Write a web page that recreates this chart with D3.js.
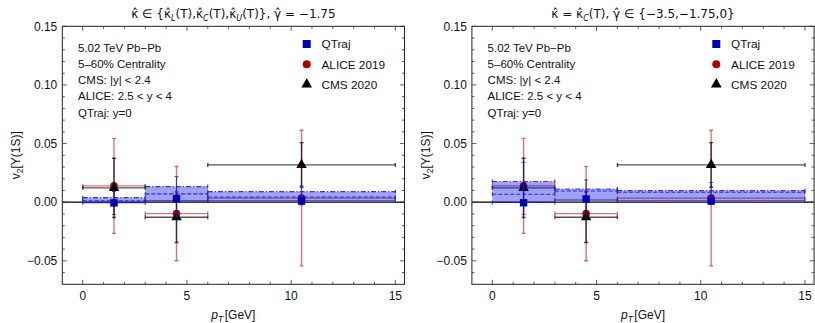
<!DOCTYPE html>
<html lang="en">
<head>
<meta charset="UTF-8">
<title>QTraj v2 comparison</title>
<script src="https://d3js.org/d3.v7.min.js"></script>
<style>
  body { margin: 0; background: #fff; }
  text { font-family: "Liberation Sans", Arial, sans-serif; fill: #111; }
</style>
</head>
<body>
<div id="chart"></div>
<script>
// pT bins shared by all data sets
const binLo = [0, 3, 6];
const binHi = [3, 6, 15];
const binMid = [1.5, 4.5, 10.5];

// ALICE 2019 (2.5 < y < 4)
const aliceV2 = [0.0139, -0.0097, 0.0035];
const aliceErr = [0.0405, 0.0402, 0.0578];

// CMS 2020 (|y| < 2.4)
const cmsV2 = [0.0122, -0.0128, 0.0318];
const cmsErr = [0.0253, 0.0216, 0.019];

// QTraj, left panel: kappa L / C / U, gamma = -1.75
const qtLeftSolid = [-0.0004, 0.0011, 0.0013];
const qtLeftDashed = [0.0012, 0.0071, 0.0045];
const qtLeftDotDash = [0.0039, 0.0133, 0.009];
const qtLeftPt = [-0.0006, 0.0031, 0.001];
const qtLeftErrLo = [-0.0104, -0.0128, -0.0023];
const qtLeftErrHi = [0.0092, 0.0218, 0.0139];

// QTraj, right panel: kappa C, gamma = -3.5 / -1.75 / 0
const qtRightSolid = [-0.0003, 0.0018, 0.0013];
const qtRightDashed = [0.0068, 0.0095, 0.0085];
const qtRightDotDash = [0.0176, 0.0113, 0.0099];
const qtRightPt = [-0.0005, 0.0028, 0.001];
const qtRightErrLo = [-0.0104, -0.0128, -0.002];
const qtRightErrHi = [0.034, 0.019, 0.0167];

const xTicks = [0, 5, 10, 15];
const yTicks = [-0.05, 0, 0.05, 0.10, 0.15];
const infoLines = ["5.02 TeV Pb\u2212Pb", "5\u201360% Centrality", "CMS: |y| < 2.4", "ALICE: 2.5 < y < 4", "QTraj: y=0"];
const legendLabels = ["QTraj", "ALICE 2019", "CMS 2020"];

const width = 815, height = 323;
const frameW = 342.2, frameTop = 26.3, frameBottom = 284.3;

const blue = "#1a1ab8", red = "#b00000";

const svg = d3.select("#chart").append("svg")
  .attr("width", width).attr("height", height);

const panels = [
  {
    left: 62.3,
    title: [["\u03BA\u0302 \u2208 {\u03BA\u0302", null], ["L", "sub"], ["(T),\u03BA\u0302", null], ["C", "sub"], ["(T),\u03BA\u0302", null], ["U", "sub"], ["(T)}, \u03B3\u0302 = \u22121.75", null]],
    solid: qtLeftSolid, dashed: qtLeftDashed, dotdash: qtLeftDotDash,
    pt: qtLeftPt, errLo: qtLeftErrLo, errHi: qtLeftErrHi
  },
  {
    left: 471.9,
    title: [["\u03BA\u0302 = \u03BA\u0302", null], ["C", "sub"], ["(T), \u03B3\u0302 \u2208 {\u22123.5,\u22121.75,0}", null]],
    solid: qtRightSolid, dashed: qtRightDashed, dotdash: qtRightDotDash,
    pt: qtRightPt, errLo: qtRightErrLo, errHi: qtRightErrHi
  }
];

panels.forEach((p, pi) => {
  const x = d3.scaleLinear().domain([-0.98, 15.44]).range([p.left, p.left + frameW]);
  const y = d3.scaleLinear().domain([-0.07, 0.15]).range([frameBottom, frameTop]);
  const g = svg.append("g");

  const clipId = "clip" + pi;
  svg.append("clipPath").attr("id", clipId).append("rect")
    .attr("x", p.left).attr("y", frameTop).attr("width", frameW).attr("height", frameBottom - frameTop);
  const plot = g.append("g").attr("clip-path", `url(#${clipId})`);

  // zero line
  plot.append("line")
    .attr("x1", p.left).attr("x2", p.left + frameW)
    .attr("y1", y(0)).attr("y2", y(0))
    .attr("stroke", "#000").attr("stroke-width", 1.3);

  // generic error bar helper
  function errBars(sel, xs, ys, lo, hi, xl, xh, color, op, sw) {
    const cap = 2;
    xs.forEach((xv, i) => {
      const eg = sel.append("g").attr("stroke", color).attr("stroke-opacity", op).attr("stroke-width", sw);
      eg.append("line").attr("x1", x(xv)).attr("x2", x(xv)).attr("y1", y(lo[i])).attr("y2", y(hi[i]));
      eg.append("line").attr("x1", x(xv) - cap).attr("x2", x(xv) + cap).attr("y1", y(lo[i])).attr("y2", y(lo[i]));
      eg.append("line").attr("x1", x(xv) - cap).attr("x2", x(xv) + cap).attr("y1", y(hi[i])).attr("y2", y(hi[i]));
      if (xl) {
        eg.append("line").attr("x1", x(xl[i])).attr("x2", x(xh[i])).attr("y1", y(ys[i])).attr("y2", y(ys[i]));
        eg.append("line").attr("x1", x(xl[i])).attr("x2", x(xl[i])).attr("y1", y(ys[i]) - cap).attr("y2", y(ys[i]) + cap);
        eg.append("line").attr("x1", x(xh[i])).attr("x2", x(xh[i])).attr("y1", y(ys[i]) - cap).attr("y2", y(ys[i]) + cap);
      }
    });
  }

  // ALICE
  errBars(plot, binMid, aliceV2,
    aliceV2.map((v, i) => v - aliceErr[i]), aliceV2.map((v, i) => v + aliceErr[i]),
    binLo, binHi, "#c81818", 0.6, 1.4);
  plot.selectAll(".alice").data(aliceV2).join("circle")
    .attr("cx", (d, i) => x(binMid[i])).attr("cy", d => y(d)).attr("r", 3.8)
    .attr("fill", red);

  // CMS
  errBars(plot, binMid, cmsV2,
    cmsV2.map((v, i) => v - cmsErr[i]), cmsV2.map((v, i) => v + cmsErr[i]),
    binLo, binHi, "#000", 0.68, 1.4);
  const tri = d3.symbol().type(d3.symbolTriangle).size(48);
  plot.selectAll(".cms").data(cmsV2).join("path")
    .attr("d", tri)
    .attr("transform", (d, i) => `translate(${x(binMid[i])},${y(d)})`)
    .attr("fill", "#000");

  // QTraj band
  binLo.forEach((lo, i) => {
    const top = Math.max(p.solid[i], p.dashed[i], p.dotdash[i]);
    const bot = Math.min(p.solid[i], p.dashed[i], p.dotdash[i]);
    plot.append("rect")
      .attr("x", x(lo)).attr("width", x(binHi[i]) - x(lo))
      .attr("y", y(top)).attr("height", y(bot) - y(top))
      .attr("fill", "rgb(0,0,230)").attr("fill-opacity", 0.37);
  });
  const lineStyles = [[p.solid, null], [p.dashed, "4,2"], [p.dotdash, "5,2,1.2,2"]];
  lineStyles.forEach(([vals, dash]) => {
    vals.forEach((v, i) => {
      const lg = plot.append("g").attr("stroke", blue).attr("stroke-width", 1.1).attr("stroke-opacity", 0.85);
      lg.append("line").attr("x1", x(binLo[i])).attr("x2", x(binHi[i]))
        .attr("y1", y(v)).attr("y2", y(v)).attr("stroke-dasharray", dash);
      [binLo[i], binHi[i]].forEach(e => lg.append("line")
        .attr("x1", x(e)).attr("x2", x(e)).attr("y1", y(v) - 2).attr("y2", y(v) + 2));
    });
  });
  errBars(plot, binMid, p.pt, p.errLo, p.errHi, null, null, blue, 0.8, 1);
  plot.selectAll(".qt").data(p.pt).join("rect")
    .attr("x", (d, i) => x(binMid[i]) - 3.7).attr("y", d => y(d) - 3.7)
    .attr("width", 7.4).attr("height", 7.4).attr("fill", "#0000b4");

  // frame
  g.append("rect")
    .attr("x", p.left).attr("y", frameTop).attr("width", frameW).attr("height", frameBottom - frameTop)
    .attr("fill", "none").attr("stroke", "#222").attr("stroke-width", 1);

  // ticks (inside, all four sides)
  const tk = g.append("g").attr("stroke", "#333").attr("stroke-width", 0.8);
  d3.range(0, 16).forEach(v => {
    const len = v % 5 === 0 ? 4.5 : 2.5;
    tk.append("line").attr("x1", x(v)).attr("x2", x(v)).attr("y1", frameBottom).attr("y2", frameBottom - len);
    tk.append("line").attr("x1", x(v)).attr("x2", x(v)).attr("y1", frameTop).attr("y2", frameTop + len);
  });
  d3.range(-6, 16).forEach(k => {
    const v = k / 100;
    const len = k % 5 === 0 ? 4.5 : 2.5;
    tk.append("line").attr("x1", p.left).attr("x2", p.left + len).attr("y1", y(v)).attr("y2", y(v));
    tk.append("line").attr("x1", p.left + frameW).attr("x2", p.left + frameW - len).attr("y1", y(v)).attr("y2", y(v));
  });

  g.selectAll(".xt").data(xTicks).join("text")
    .attr("x", d => x(d)).attr("y", 299.5).attr("text-anchor", "middle")
    .style("font-size", "12px").text(d => d);
  g.selectAll(".yt").data(yTicks).join("text")
    .attr("x", p.left - 5).attr("y", d => y(d) + 4.2).attr("text-anchor", "end")
    .style("font-size", "12px").text(d => (d < 0 ? "\u2212" : "") + Math.abs(d).toFixed(2));

  // axis labels
  const xl = g.append("text").attr("x", p.left + frameW / 2).attr("y", 318.5)
    .attr("text-anchor", "middle").style("font-size", "12px");
  xl.append("tspan").style("font-style", "italic").text("p");
  xl.append("tspan").style("font-style", "italic").style("font-size", "8.5px").attr("dy", 3).text("T");
  xl.append("tspan").attr("dy", -3).attr("dx", 1.5).text("[GeV]");

  const yl = g.append("text")
    .attr("transform", `translate(${p.left - 42},${(frameTop + frameBottom) / 2}) rotate(-90)`)
    .attr("text-anchor", "middle").style("font-size", "12px");
  yl.append("tspan").text("v");
  yl.append("tspan").style("font-size", "8.5px").attr("dy", 3).text("2");
  yl.append("tspan").attr("dy", -3).text("[\u03A5(1S)]");

  // title
  const tt = g.append("text").attr("x", p.left + frameW / 2).attr("y", 18)
    .attr("text-anchor", "middle").style("font-size", "12px")
    .style("font-family", "'DejaVu Sans', sans-serif");
  p.title.forEach(([s, kind]) => {
    const ts = tt.append("tspan").text(s);
    if (kind === "sub") ts.attr("dy", 2.5).style("font-size", "8px").style("font-style", "italic");
    else if (tt.selectAll("tspan").size() > 1) ts.attr("dy", -2.5);
  });

  // info text
  g.selectAll(".info").data(infoLines).join("text")
    .attr("x", p.left + 15.7).attr("y", (d, i) => 51.5 + i * 16.3)
    .style("font-size", "11.5px").text(d => d);

  // legend
  const lx = p.left + 244.4;
  const ly = [44, 64.3, 84.3];
  g.append("rect").attr("x", lx - 4).attr("y", ly[0] - 4).attr("width", 8).attr("height", 8).attr("fill", "#0000b4");
  g.append("circle").attr("cx", lx).attr("cy", ly[1]).attr("r", 4).attr("fill", red);
  g.append("path").attr("d", d3.symbol().type(d3.symbolTriangle).size(50))
    .attr("transform", `translate(${lx},${ly[2]})`).attr("fill", "#000");
  g.selectAll(".leg").data(legendLabels).join("text")
    .attr("x", lx + 14.8).attr("y", (d, i) => ly[i] + 4.3)
    .style("font-size", "11.8px").text(d => d);
});
</script>
</body>
</html>
